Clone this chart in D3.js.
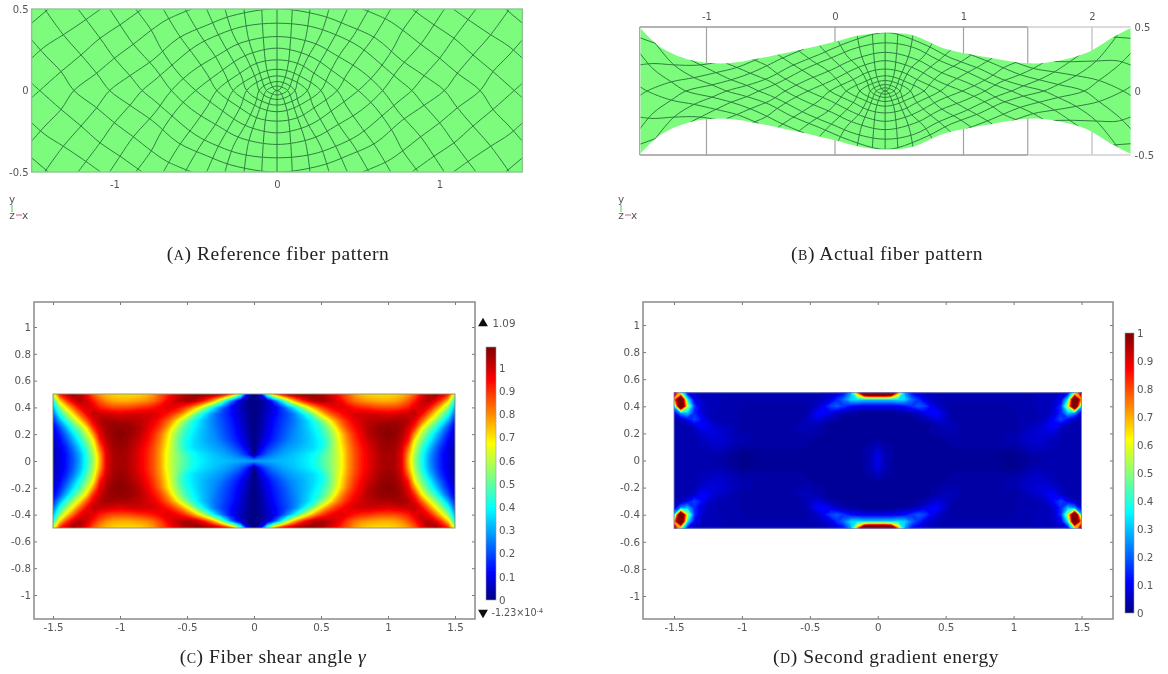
<!DOCTYPE html>
<html><head><meta charset="utf-8">
<script src="https://cdnjs.cloudflare.com/ajax/libs/d3/7.8.5/d3.min.js"></script>
<style>
html,body{margin:0;padding:0;background:#fff}
svg{display:block}
text{font-family:"DejaVu Sans",sans-serif;fill:#555}
.title{font-family:"Liberation Serif",serif;fill:#222;text-anchor:middle;font-size:19.5px;letter-spacing:.55px}
</style></head><body><div id="c"></div>
<script>
// Quadrant grid: x = 0..1.5 step .05 (columns), y = 0..0.5 step .05 (rows).
const gridX = d3.range(31).map(i => i * 5 / 100);
const gridY = d3.range(11).map(i => i * 5 / 100);
const shearRows = [
[.30,.30,.30,.31,.32,.33,.34,.36,.38,.41,.46,.52,.58,.66,.78,.86,.92,.97,1.01,1.04,1.05,1.04,.98,.76,.56,.42,.30,.21,.14,.09,.05],
[0,.15,.22,.26,.29,.31,.33,.35,.37,.40,.45,.51,.58,.66,.78,.86,.92,.97,1.01,1.04,1.05,1.04,.98,.78,.58,.43,.31,.22,.14,.09,.05],
[0,.09,.16,.21,.25,.28,.30,.32,.34,.36,.40,.48,.58,.68,.79,.87,.93,.98,1.02,1.05,1.06,1.05,1.00,.84,.62,.47,.35,.25,.16,.10,.05],
[0,.06,.12,.17,.21,.25,.28,.30,.33,.36,.40,.47,.58,.70,.81,.89,.95,1.00,1.03,1.06,1.07,1.06,1.02,.92,.67,.53,.41,.30,.20,.12,.06],
[0,.05,.10,.15,.19,.23,.27,.30,.33,.37,.42,.50,.60,.72,.83,.91,.97,1.02,1.05,1.07,1.08,1.07,1.04,.97,.78,.60,.47,.36,.25,.15,.08],
[0,.04,.09,.14,.18,.22,.26,.30,.34,.39,.45,.54,.66,.79,.88,.94,.99,1.03,1.05,1.07,1.07,1.07,1.05,1.00,.90,.70,.56,.45,.32,.20,.10],
[0,.03,.08,.13,.17,.21,.25,.30,.35,.42,.52,.63,.76,.85,.92,.97,1.00,1.02,1.03,1.04,1.04,1.05,1.05,1.03,.97,.85,.70,.57,.44,.30,.15],
[0,.03,.07,.11,.16,.20,.26,.34,.44,.56,.70,.81,.88,.93,.97,.99,1.00,1.00,1.00,.99,.98,.99,1.00,1.01,1.02,.95,.84,.70,.56,.42,.22],
[0,.02,.06,.10,.17,.27,.38,.52,.66,.78,.87,.93,.97,.99,.96,.93,.91,.90,.88,.87,.87,.87,.89,.92,.98,1.00,.95,.84,.70,.54,.30],
[0,.02,.07,.20,.37,.58,.76,.88,.97,1.03,1.05,1.03,1.00,.95,.88,.83,.80,.78,.77,.76,.76,.77,.80,.85,.92,1.00,1.04,.98,.88,.72,.40],
[0,.12,.50,.78,.94,1.02,1.06,1.08,1.08,1.07,1.05,1.00,.96,.90,.85,.78,.74,.72,.71,.71,.71,.72,.74,.78,.85,.95,1.03,1.07,1.00,.92,.60]
];
const energyRows = [
[.10,.05,.03,.02,.02,.02,.02,.02,.02,.02,.02,.02,.02,.02,.02,.02,.02,.02,.02,.015,.015,.02,.025,.03,.035,.04,.04,.04,.04,.04,.04],
[.09,.05,.03,.02,.02,.02,.02,.02,.02,.02,.02,.02,.02,.02,.02,.02,.02,.02,.02,.015,.015,.02,.03,.04,.04,.04,.04,.04,.04,.04,.04],
[.06,.04,.03,.02,.02,.02,.02,.02,.02,.02,.02,.03,.03,.03,.03,.03,.03,.03,.03,.03,.03,.04,.05,.06,.06,.05,.05,.04,.04,.04,.04],
[.03,.025,.02,.02,.02,.02,.02,.02,.02,.02,.03,.03,.03,.03,.03,.03,.03,.03,.03,.04,.04,.05,.06,.07,.07,.06,.05,.04,.04,.04,.04],
[.02,.02,.02,.02,.02,.02,.02,.02,.03,.03,.04,.04,.04,.03,.03,.03,.03,.03,.03,.04,.04,.05,.06,.07,.08,.08,.07,.05,.04,.04,.04],
[.02,.02,.02,.02,.02,.02,.02,.02,.03,.04,.05,.05,.04,.03,.03,.03,.03,.03,.03,.03,.03,.04,.05,.06,.07,.10,.11,.06,.04,.04,.04],
[.02,.02,.02,.02,.02,.02,.03,.04,.06,.08,.06,.04,.03,.03,.03,.03,.03,.03,.03,.03,.03,.04,.04,.04,.05,.07,.12,.18,.10,.05,.04],
[.02,.02,.02,.03,.03,.04,.06,.09,.12,.11,.06,.03,.03,.03,.03,.03,.03,.03,.03,.03,.03,.04,.04,.04,.05,.05,.08,.15,.30,.25,.08],
[.09,.09,.09,.10,.12,.16,.20,.17,.10,.06,.04,.03,.03,.03,.03,.03,.03,.03,.03,.03,.04,.04,.04,.04,.05,.05,.07,.16,.55,1.30,.30],
[.32,.32,.32,.34,.32,.22,.15,.08,.06,.05,.04,.04,.04,.04,.04,.04,.04,.04,.04,.04,.04,.04,.04,.05,.05,.05,.06,.10,.35,1.30,.70],
[1.4,1.4,1.3,.75,.25,.12,.08,.06,.05,.04,.04,.04,.04,.04,.04,.04,.04,.04,.04,.04,.04,.04,.04,.04,.05,.05,.05,.06,.10,.50,1.10]
];
// Fibers of the reference pattern, left half, as [x, y].
const fibers = [
[[-1.43,.5],[-1.315,.342],[-1.206,.218],[-1.11,.106],[-1.03,0],[-.905,-.091],[-.765,-.187],[-.607,-.321],[-.433,-.4],[-.29,-.455],[-.094,-.495],[0,-.5]],
[[-1.225,.5],[-1.089,.321],[-1.001,.198],[-.905,.091],[-.83,0],[-.751,-.065],[-.669,-.136],[-.505,-.27],[-.361,-.342],[-.207,-.393],[0,-.413]],
[[-1.03,.5],[-.966,.403],[-.884,.284],[-.751,.136],[-.65,0],[-.525,-.116],[-.361,-.218],[-.228,-.29],[0,-.331]],
[[-.87,.5],[-.775,.372],[-.71,.25],[-.607,.106],[-.5,0],[-.361,-.106],[-.228,-.198],[-.125,-.239],[0,-.26]],
[[-.70,.5],[-.607,.345],[-.5,.2],[-.43,.1],[-.37,0],[-.228,-.106],[-.125,-.167],[0,-.188]],
[[-.566,.5],[-.474,.342],[-.38,.21],[-.32,.1],[-.27,0],[-.166,-.075],[-.074,-.118],[0,-.13]],
[[-.433,.5],[-.361,.342],[-.28,.2],[-.22,.09],[-.187,0],[-.105,-.06],[0,-.09]],
[[-.32,.5],[-.269,.342],[-.187,.198],[-.13,.07],[-.11,0],[-.06,-.04],[0,-.055]],
[[-.203,.5],[-.176,.32],[-.115,.136],[-.065,0],[-.03,-.02],[0,-.028]],
[[-.094,.5],[-.084,.32],[-.064,.136],[-.02,.01],[0,0]],
[[-1.51,.311],[-1.428,.218],[-1.329,.116],[-1.25,0],[-1.11,-.106],[-1.001,-.198],[-.884,-.284],[-.771,-.372],[-.679,-.434],[-.525,-.5]],
[[-1.51,.045],[-1.46,0],[-1.329,-.116],[-1.206,-.218],[-1.089,-.321],[-.966,-.403],[-.83,-.5]],
[[-1.51,-.198],[-1.428,-.27],[-1.315,-.342],[-1.192,-.424],[-1.085,-.5]],
[[-1.51,-.413],[-1.407,-.5]]
];
const axisFiber = [[0,.5],[0,-.5]];
// Deformation: distance from the pattern centre, before and after.
const refDist = [0,.19,.37,.5,.669,.853,1.05,1.25,1.5];
const actDist = [0,.2,.43,.6,.8,1.01,1.26,1.55,1.91];
const patternCentre = .39;
const outlineX = [-1.513,-1.363,-1.124,-.842,-.588,-.278,0,.2,.39,.6,.85,1.16,1.5,1.695,1.95,2.17,2.3];
const outlineY = [.49,.346,.242,.216,.255,.32,.385,.4375,.456,.4375,.333,.268,.216,.229,.294,.424,.49];
const jetStops = [0,.11,.36,.62,.87,1];
const jetColors = ["#00007f","#0000ff","#00ffff","#ffff00","#ff0000","#7f0000"];
const aXTicks = [-1,0,1], aYTicks = [-.5,0,.5];
const bXTicks = [-1,0,1,2], bYTicks = [-.5,0,.5], bGuides = [-1,0,1,1.5,2];
const heatXTicks = [-1.5,-1,-.5,0,.5,1,1.5];
const heatYTicks = [-1,-.8,-.6,-.4,-.2,0,.2,.4,.6,.8,1];
const shearBarTicks = [0,.1,.2,.3,.4,.5,.6,.7,.8,.9,1];
const energyBarTicks = [0,.1,.2,.3,.4,.5,.6,.7,.8,.9,1];
const titles = [
 {cap:"(a)",text:" Reference fiber pattern",x:278,y:260},
 {cap:"(b)",text:" Actual fiber pattern",x:887,y:260},
 {cap:"(c)",text:" Fiber shear angle ",math:"γ",x:273,y:663},
 {cap:"(d)",text:" Second gradient energy",x:886,y:663}
];

const W=1168,H=674;
const svg=d3.select("#c").append("svg").attr("width",W).attr("height",H);
const defs=svg.append("defs");
defs.append("filter").attr("id","soft").attr("x","-5%").attr("y","-5%").attr("width","110%").attr("height","110%")
    .append("feGaussianBlur").attr("stdDeviation",.45);
const fmt=d=>String(d);
const soft=svg.append("g").attr("filter","url(#soft)");
const lineGen=d3.line().curve(d3.curveCatmullRom.alpha(.5));

function wholeFibers(){ // a fiber reaching x=0 continues in its mirror image
  const out=[];
  const mirror=(p,sx,sy)=>p.map(([x,y])=>[x*sx,y*sy]);
  for(const f of fibers){
    const last=f[f.length-1];
    if(last[0]===0 && last[1]!==0){
      const joined=f.concat(mirror(f,-1,1).reverse().slice(1));
      out.push(joined, mirror(joined,1,-1));
    } else {
      for(const sx of [1,-1]) for(const sy of [1,-1]) out.push(mirror(f,sx,sy));
    }
  }
  out.push(axisFiber);
  return out;
}
function triad(g,x){
  g.append("line").attr("x1",x+1).attr("x2",x+1).attr("y1",205).attr("y2",212).attr("stroke","#6fdc6f").attr("stroke-width",1.3);
  g.append("line").attr("x1",x+5).attr("x2",x+11).attr("y1",215).attr("y2",215).attr("stroke","#e8707a").attr("stroke-width",1.2);
  g.append("text").attr("x",x+1).attr("y",203).attr("text-anchor","middle").attr("font-size",10.5).text("y");
  g.append("text").attr("x",x+1).attr("y",218.5).attr("text-anchor","middle").attr("font-size",10.5).text("z");
  g.append("text").attr("x",x+14).attr("y",218.5).attr("text-anchor","middle").attr("font-size",10.5).text("x");
}
function labelAxis(g,ax,fs){
  g.call(ax); g.select(".domain").remove(); g.selectAll("line").remove();
  g.selectAll("text").attr("font-size",fs).attr("fill","#555").attr("font-family","DejaVu Sans");
}

// Panel A
(function(){
  const x=d3.scaleLinear([-1,1],[114.5,439.5]), y=d3.scaleLinear([-.5,.5],[172,9]);
  const g=soft.append("g");
  const x0=x(-1.51),x1=x(1.51);
  defs.append("clipPath").attr("id","clipA").append("rect").attr("x",x0).attr("y",y(.5)).attr("width",x1-x0).attr("height",y(-.5)-y(.5));
  g.append("rect").attr("x",x0).attr("y",y(.5)).attr("width",x1-x0).attr("height",y(-.5)-y(.5)).attr("fill","#7cfb7c");
  g.append("g").attr("clip-path","url(#clipA)").selectAll("path").data(wholeFibers()).join("path")
    .attr("d",d=>lineGen.x(p=>x(p[0])).y(p=>y(p[1]))(d)).attr("fill","none").attr("stroke","#2f7f3f").attr("stroke-width",1);
  g.append("rect").attr("x",x0).attr("y",y(.5)).attr("width",x1-x0).attr("height",y(-.5)-y(.5)).attr("fill","none").attr("stroke","#8fc596").attr("stroke-width",1.4);
  labelAxis(g.append("g").attr("transform","translate(0,178)"),d3.axisBottom(x).tickValues(aXTicks).tickFormat(fmt).tickSize(0).tickPadding(3),10);
  labelAxis(g.append("g").attr("transform",`translate(${x0-2},0)`),d3.axisLeft(y).tickValues(aYTicks).tickFormat(fmt).tickSize(0).tickPadding(1),10);
  triad(g,11);
})();

// Panel B
(function(){
  const x=d3.scaleLinear([-1,2],[706.5,1092]), y=d3.scaleLinear([-.5,.5],[155,27]);
  const g=soft.append("g");
  const dist=d3.scaleLinear(refDist,actDist);
  const halfH=d3.scaleLinear(outlineX,outlineY);
  const deform=([px,py])=>{
    const ax=patternCentre+Math.sign(px)*dist(Math.abs(px));
    return [ax, py*2*halfH(ax)];
  };
  const area=d3.area().curve(d3.curveCatmullRom.alpha(.5)).x(d=>x(d[0])).y0(d=>y(-d[1])).y1(d=>y(d[1]));
  const outline=outlineX.map((v,i)=>[v,outlineY[i]]);
  const hLine=x(1.5);
  g.selectAll(".guide").data(bGuides).join("line").attr("x1",d=>x(d)).attr("x2",d=>x(d)).attr("y1",y(.5)).attr("y2",y(-.5)).attr("stroke",d=>d<2?"#a3a3a3":"#bdbdbd").attr("stroke-width",1.2);
  for(const v of [.5,-.5]){
    g.append("line").attr("x1",x(-1.52)).attr("x2",hLine).attr("y1",y(v)).attr("y2",y(v)).attr("stroke","#9a9a9a").attr("stroke-width",1.4);
    g.append("line").attr("x1",hLine).attr("x2",x(2.3)).attr("y1",y(v)).attr("y2",y(v)).attr("stroke","#cfcfcf").attr("stroke-width",1.4);
  }
  g.append("line").attr("x1",x(-1.52)).attr("x2",x(-1.52)).attr("y1",y(.5)).attr("y2",y(-.5)).attr("stroke","#a3a3a3").attr("stroke-width",1.2);
  g.append("path").attr("d",area(outline)).attr("fill","#7cfb7c");
  defs.append("clipPath").attr("id","clipB").append("path").attr("d",area(outline));
  g.append("g").attr("clip-path","url(#clipB)").selectAll("path").data(wholeFibers().map(f=>f.map(deform))).join("path")
    .attr("d",d=>lineGen.x(p=>x(p[0])).y(p=>y(p[1]))(d)).attr("fill","none").attr("stroke","#2f7f3f").attr("stroke-width",1);
  labelAxis(g.append("g").attr("transform","translate(0,21)"),d3.axisTop(x).tickValues(bXTicks).tickFormat(fmt).tickSize(0).tickPadding(1),10);
  labelAxis(g.append("g").attr("transform",`translate(${x(2.3)+4},0)`),d3.axisRight(y).tickValues(bYTicks).tickFormat(fmt).tickSize(0).tickPadding(0),10);
  triad(g,620);
})();

// Panels C and D
function heatPanel(o){
  const g=soft.append("g");
  const x=d3.scaleLinear([-1.5,1.5],o.xr), y=d3.scaleLinear([-.5,.5],o.yr);
  const color=d3.scaleLinear(jetStops.map(s=>s*o.max),jetColors).clamp(true);
  // unfold the quadrant rows into the full rectangle
  const cols=gridX.length*2-1, rows=gridY.length*2-1;
  const flat=[];
  for(let j=0;j<rows;j++){
    const r=o.rows[Math.abs(j-(gridY.length-1))];
    for(let i=0;i<cols;i++) flat.push(r[Math.abs(i-(gridX.length-1))]);
  }
  const dx=gridX[1]-gridX[0], dy=gridY[1]-gridY[0];
  const xMax=gridX[gridX.length-1], yMax=gridY[gridY.length-1];
  const path=d3.geoPath(d3.geoTransform({point(a,b){this.stream.point(x(-xMax+(a-.5)*dx),y(yMax-(b-.5)*dy));}}));
  const ths=d3.range(0,o.max+.001,o.max/110);
  const polys=d3.contours().size([cols,rows]).thresholds(ths)(flat);
  const id="clip"+o.id;
  const bx=x(-1.5),bw=x(1.5)-x(-1.5),by=y(.5),bh=y(-.5)-y(.5);
  defs.append("clipPath").attr("id",id).append("rect").attr("x",bx).attr("y",by).attr("width",bw).attr("height",bh);
  const plot=g.append("g").attr("clip-path",`url(#${id})`);
  plot.append("rect").attr("x",bx).attr("y",by).attr("width",bw).attr("height",bh).attr("fill",color(0));
  plot.selectAll("path").data(polys).join("path").attr("d",path).attr("fill",d=>color(d.value+o.max/220));
  g.append("rect").attr("x",bx).attr("y",by).attr("width",bw).attr("height",bh).attr("fill","none").attr("stroke",o.edge).attr("stroke-width",.9);
  // frame
  const fx=d3.scaleLinear([-1.5,1.5],o.xr), fy=d3.scaleLinear([0,1],[o.y0,o.y1]);
  const [L,R,T,B]=o.frame;
  const styleAx=(s,fs)=>{s.select(".domain").remove();s.selectAll("line").attr("stroke","#777");s.selectAll("text").attr("font-size",10.3).attr("fill","#555").attr("font-family","DejaVu Sans");};
  g.append("g").attr("transform",`translate(0,${B})`).call(d3.axisBottom(fx).tickValues(heatXTicks).tickFormat(fmt).tickSizeInner(-3).tickPadding(5)).call(styleAx);
  g.append("g").attr("transform",`translate(0,${T})`).call(d3.axisTop(fx).tickValues(heatXTicks).tickFormat("").tickSizeInner(-3)).call(styleAx);
  g.append("g").attr("transform",`translate(${L},0)`).call(d3.axisLeft(fy).tickValues(heatYTicks).tickFormat(fmt).tickSizeInner(-3).tickPadding(3)).call(styleAx);
  g.append("g").attr("transform",`translate(${R},0)`).call(d3.axisRight(fy).tickValues(heatYTicks).tickFormat("").tickSizeInner(-3)).call(styleAx);
  g.append("rect").attr("x",L).attr("y",T).attr("width",R-L).attr("height",B-T).attr("fill","none").attr("stroke","#8a8a8a").attr("stroke-width",1.5);
  // colour bar
  const [cL,cR,cT,cB]=o.bar;
  const cy=d3.scaleLinear([0,o.max],[cB,cT]);
  const gid="grad"+o.id;
  const grad=defs.append("linearGradient").attr("id",gid).attr("x1",0).attr("x2",0).attr("y1",1).attr("y2",0);
  grad.selectAll("stop").data(jetStops).join("stop").attr("offset",d=>d).attr("stop-color",(d,i)=>jetColors[i]);
  g.append("rect").attr("x",cL).attr("y",cT).attr("width",cR-cL).attr("height",cB-cT).attr("fill",`url(#${gid})`).attr("stroke","#999").attr("stroke-width",.6);
  const ca=g.append("g").attr("transform",`translate(${cR},0)`).call(d3.axisRight(cy).tickValues(o.barTicks).tickFormat(fmt).tickSizeInner(0).tickPadding(3));
  ca.select(".domain").remove();ca.selectAll("line").remove();ca.selectAll("text").attr("font-size",10.3).attr("fill","#555").attr("font-family","DejaVu Sans");
  return {g,cy};
}
const C=heatPanel({id:"C",rows:shearRows,max:1.09,xr:[53,455],yr:[528,394],y0:461,y1:327,frame:[34,475,302,619],edge:"#8d8d6a",bar:[486,496,347,600],barTicks:shearBarTicks});
const D=heatPanel({id:"D",rows:energyRows,max:1,xr:[674,1081.5],yr:[528.3,392.7],y0:460.5,y1:325,frame:[643,1113,302,619],edge:"#7f88c8",bar:[1125,1134,333,613],barTicks:energyBarTicks});
// over/under markers of panel C
const tri=d3.symbol().type(d3.symbolTriangle).size(42);
C.g.append("path").attr("d",tri).attr("transform","translate(483,323.5)").attr("fill","#111");
C.g.append("path").attr("d",tri).attr("transform","translate(483,612.5) rotate(180)").attr("fill","#111");
C.g.append("text").attr("x",492.5).attr("y",327).attr("font-size",10.3).text("1.09");
const under=C.g.append("text").attr("x",491.5).attr("y",616).attr("font-size",9.6).text("-1.23×10");
under.append("tspan").attr("dy",-3).attr("font-size",6.5).text("-4");

// Captions
const t=svg.selectAll(".title").data(titles).join("text").attr("class","title").attr("x",d=>d.x).attr("y",d=>d.y);
t.append("tspan").style("font-variant","small-caps").text(d=>d.cap);
t.append("tspan").text(d=>d.text);
t.filter(d=>d.math).append("tspan").style("font-style","italic").text(d=>d.math);
</script></body></html>
